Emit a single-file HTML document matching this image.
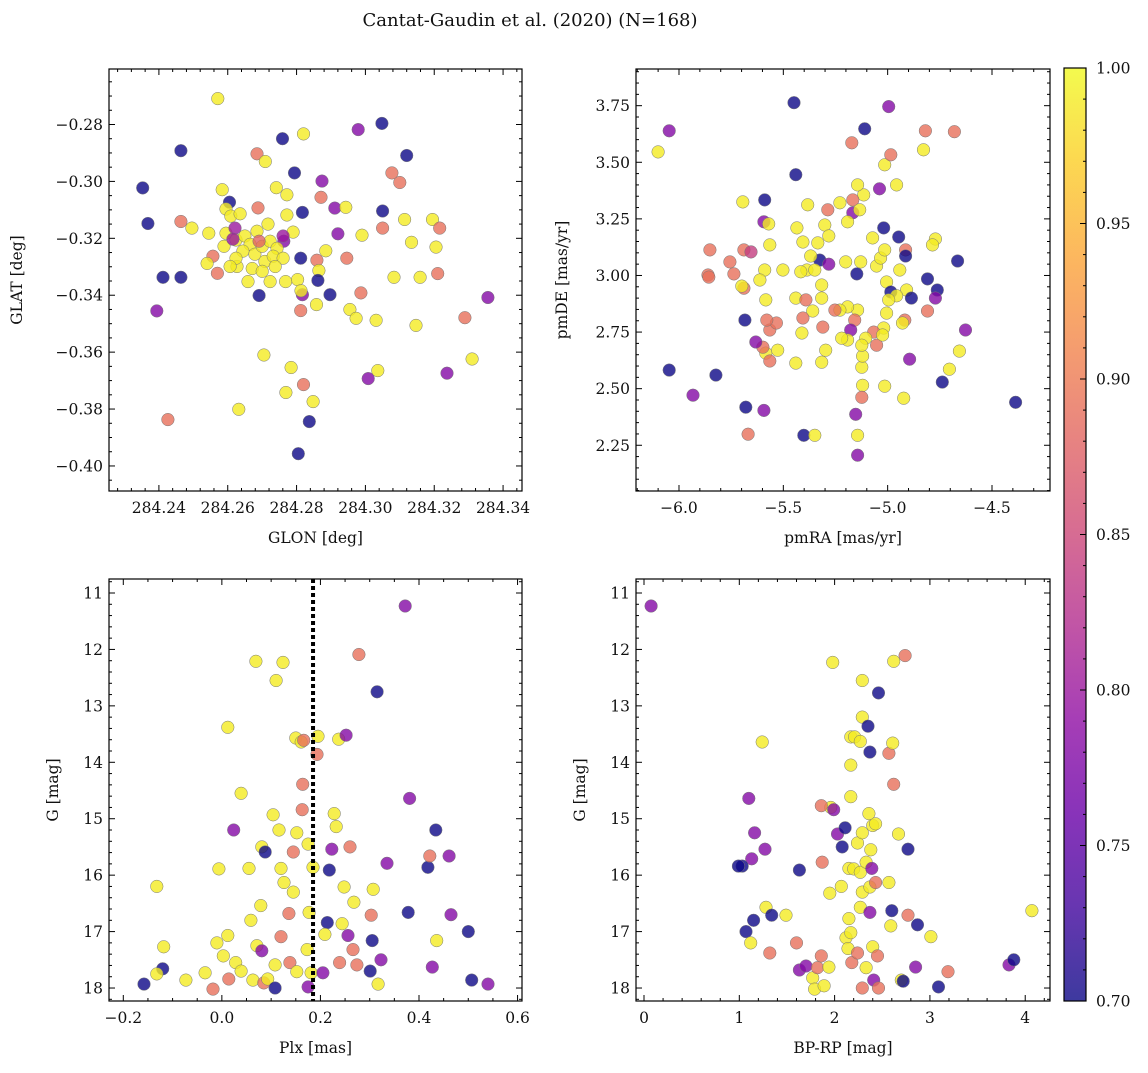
<!DOCTYPE html>
<html><head><meta charset="utf-8"><style>
body{margin:0;background:#fff;}
svg text{font-family:"DejaVu Serif","Liberation Serif",serif;fill:#111;}
</style></head><body>
<svg id="fig" width="1148" height="1068" viewBox="0 0 1148 1068" xmlns="http://www.w3.org/2000/svg">
<defs>
<linearGradient id="cbg" x1="0" y1="1" x2="0" y2="0">
<stop offset="0" stop-color="#0d0887"/><stop offset="0.1" stop-color="#41049d"/><stop offset="0.2" stop-color="#6a00a8"/><stop offset="0.3" stop-color="#8f0da4"/><stop offset="0.4" stop-color="#b12a90"/><stop offset="0.5" stop-color="#cc4778"/><stop offset="0.6" stop-color="#e16462"/><stop offset="0.7" stop-color="#f2844b"/><stop offset="0.8" stop-color="#fca636"/><stop offset="0.9" stop-color="#fcce25"/><stop offset="1" stop-color="#f0f921"/>
</linearGradient>
</defs>
<text x="530" y="26" text-anchor="middle" font-size="18">Cantat-Gaudin et al. (2020) (N=168)</text>
</svg>
<script>
// ---- data ----
const tlLon=[.2571,.2353,.2368,.2464,.2412,.2464,.2394,.2464,.2426,.2759,.282,.2794,.2817,.2685,.2874,.2979,.3048,.312,.3077,.31,.2911,.2943,.2871,.305,.305,.299,.292,.3114,.3134,.3195,.3216,.3205,.3083,.3159,.321,.2946,.2987,.2955,.2973,.3031,.3147,.3036,.3008,.3289,.331,.3237,.3356,.2885,.2859,.2865,.2862,.2897,.2817,.2812,.2858,.2812,.2803,.2768,.2813,.2705,.2784,.2769,.282,.2848,.2837,.2805,.2632,.2691,.2584,.2605,.2741,.2772,.2709,.2772,.279,.2763,.2496,.2545,.2557,.257,.254,.2627,.2595,.2609,.2636,.2595,.2624,.265,.2665,.2644,.2679,.27,.2723,.2743,.2708,.2732,.2761,.2671,.27,.2659,.2723,.2738,.2624,.2607,.2589,.2685,.2717,.2688,.2621,.2615,.2691,.2761];
const tlLat=[-.2709,-.3023,-.3148,-.2892,-.3337,-.3337,-.3455,-.3141,-.3837,-.285,-.2833,-.297,-.3109,-.2903,-.2999,-.2818,-.2796,-.2909,-.297,-.3004,-.3094,-.3091,-.3056,-.3104,-.3164,-.3189,-.3184,-.3134,-.3214,-.3134,-.3164,-.3231,-.3337,-.3337,-.3324,-.327,-.3392,-.345,-.3481,-.3488,-.3506,-.3665,-.3693,-.3479,-.3624,-.3674,-.3408,-.3244,-.3277,-.3313,-.3348,-.3398,-.3398,-.3454,-.3433,-.327,-.3345,-.3352,-.3384,-.361,-.3654,-.3742,-.3714,-.3774,-.3844,-.3957,-.3801,-.3401,-.3029,-.3073,-.3022,-.3047,-.293,-.3118,-.3178,-.321,-.3164,-.3182,-.3263,-.3323,-.3288,-.3299,-.3097,-.3122,-.3114,-.3182,-.3206,-.3192,-.3221,-.3245,-.3256,-.3228,-.321,-.3235,-.3281,-.3263,-.327,-.3306,-.3316,-.3352,-.3352,-.3299,-.327,-.3299,-.3228,-.3175,-.315,-.3093,-.3164,-.3203,-.321,-.3192];
const tlProb=[.99,.7,.7,.7,.7,.7,.78,.89,.89,.7,.99,.7,.7,.89,.78,.78,.7,.7,.89,.89,.78,.99,.89,.7,.89,.99,.78,.99,.99,.99,.89,.99,.99,.99,.89,.89,.89,.99,.99,.99,.99,.99,.78,.89,.99,.78,.78,.99,.89,.99,.7,.7,.78,.89,.99,.7,.99,.99,.99,.99,.99,.99,.89,.99,.7,.7,.99,.7,.99,.7,.99,.99,.99,.99,.99,.78,.99,.99,.89,.89,.99,.99,.99,.99,.99,.99,.99,.99,.99,.99,.99,.99,.99,.99,.99,.99,.99,.99,.99,.99,.99,.99,.99,.99,.99,.99,.99,.89,.8,.8,.88,.8];

const trRA=[-6.047,-6.100,-5.449,-5.110,-4.995,-4.819,-4.680,-5.172,-5.014,-4.985,-4.828,-5.440,-5.694,-5.589,-5.593,-5.383,-5.287,-5.229,-5.115,-5.144,-5.039,-4.957,-5.167,-5.167,-5.134,-5.192,-5.301,-5.435,-5.406,-5.335,-5.282,-5.570,-5.565,-5.689,-5.655,-5.852,-5.861,-5.857,-5.756,-5.737,-5.589,-5.502,-5.387,-5.325,-5.282,-5.201,-5.129,-5.148,-5.053,-5.034,-5.014,-5.072,-5.019,-4.947,-4.914,-4.942,-4.914,-5.005,-4.985,-4.909,-4.886,-4.957,-4.995,-4.809,-4.771,-4.785,-4.665,-4.762,-4.771,-4.809,-4.918,-5.005,-4.929,-5.019,-5.067,-5.053,-5.024,-5.105,-4.895,-4.627,-4.656,-4.704,-4.738,-4.387,-4.923,-5.014,-5.124,-5.120,-5.124,-5.120,-5.124,-5.153,-5.144,-5.144,-5.144,-5.158,-5.177,-5.192,-5.220,-5.192,-5.229,-5.253,-5.311,-5.297,-5.316,-5.359,-5.440,-5.406,-5.411,-5.440,-5.565,-5.533,-5.579,-5.584,-5.565,-5.527,-5.598,-5.632,-5.684,-5.689,-5.612,-5.584,-5.699,-5.369,-5.316,-5.316,-5.392,-5.416,-5.349,-5.593,-5.680,-6.047,-5.823,-5.933,-5.669,-5.402,-5.349];
const trDE=[3.639,3.546,3.763,3.648,3.746,3.639,3.635,3.586,3.489,3.533,3.555,3.445,3.325,3.334,3.237,3.312,3.29,3.321,3.356,3.4,3.383,3.4,3.334,3.277,3.29,3.237,3.223,3.21,3.148,3.144,3.175,3.228,3.135,3.113,3.104,3.113,3.002,2.993,3.06,3.007,3.024,3.024,3.024,3.068,3.05,3.06,3.06,3.007,3.042,3.077,3.113,3.166,3.21,3.17,3.113,3.024,3.086,2.971,2.927,2.936,2.9,2.91,2.892,2.985,3.161,3.135,3.064,2.936,2.9,2.843,2.803,2.834,2.79,2.768,2.75,2.692,2.737,2.723,2.63,2.759,2.666,2.586,2.529,2.44,2.458,2.511,2.595,2.644,2.692,2.515,2.462,2.387,2.294,2.206,2.847,2.803,2.759,2.715,2.723,2.861,2.847,2.847,2.772,2.67,2.617,2.843,2.9,2.812,2.746,2.613,2.759,2.79,2.803,2.657,2.622,2.67,2.683,2.706,2.803,2.944,2.98,2.892,2.953,3.086,2.958,2.9,2.892,3.016,3.024,2.404,2.418,2.582,2.56,2.471,2.299,2.294,2.294];
const trProb=[.78,.99,.7,.7,.78,.89,.89,.89,.99,.89,.99,.7,.99,.7,.78,.99,.89,.99,.99,.99,.78,.99,.89,.78,.99,.99,.99,.99,.99,.99,.99,.99,.99,.89,.84,.89,.89,.89,.89,.89,.99,.99,.99,.7,.78,.99,.99,.7,.99,.99,.99,.99,.7,.7,.89,.99,.7,.99,.7,.99,.7,.99,.99,.7,.99,.99,.7,.7,.78,.89,.89,.99,.99,.99,.89,.89,.99,.99,.78,.78,.99,.99,.7,.7,.99,.99,.99,.99,.99,.99,.89,.78,.99,.78,.99,.89,.78,.99,.99,.99,.99,.89,.89,.99,.99,.99,.99,.89,.99,.99,.89,.89,.89,.99,.89,.99,.89,.78,.7,.89,.99,.99,.99,.99,.99,.99,.89,.99,.99,.78,.7,.7,.7,.78,.89,.7,.99];

const blPlx=[-.158,-.12,-.132,-.118,-.132,-.073,-.034,-.01,.003,-.018,.014,-.006,.012,.024,.039,.012,.028,.039,.063,.055,.059,.071,.069,.081,.079,.085,.093,.108,.108,.12,.11,.124,.104,.081,.088,.116,.12,.126,.136,.145,.145,.150,.161,.166,.138,.152,.164,.152,.163,.175,.177,.173,.181,.175,.193,.195,.214,.205,.209,.218,.223,.232,.228,.237,.252,.26,.248,.244,.256,.239,.266,.274,.278,.268,.303,.307,.305,.301,.315,.323,.317,.335,.372,.381,.378,.418,.422,.427,.434,.436,.461,.465,.50,.507,.54,.185];
const blG=[17.93,17.66,16.2,17.27,17.75,17.86,17.73,17.2,17.43,18.02,17.84,15.89,13.38,15.2,14.55,17.07,17.55,17.7,17.86,15.88,16.8,17.25,12.21,17.34,16.54,17.91,17.84,17.59,18.0,17.09,12.55,12.23,14.93,15.5,15.59,15.2,15.88,16.13,16.68,16.3,15.59,13.57,13.64,13.61,17.55,17.71,14.39,15.25,14.84,15.45,16.66,17.32,17.73,17.98,13.86,13.54,16.84,17.73,17.05,15.91,15.54,15.14,14.91,13.59,13.52,15.5,16.21,16.86,17.07,17.55,17.32,17.59,12.09,16.48,16.71,16.25,17.16,17.7,12.75,17.5,17.93,15.79,11.23,14.64,16.66,15.86,15.66,17.63,15.2,17.16,15.66,16.7,17.0,17.86,17.93,15.86];
const blProb=[.7,.7,.99,.99,.99,.99,.99,.99,.99,.89,.89,.99,.99,.78,.99,.99,.99,.99,.99,.99,.99,.99,.99,.78,.99,.89,.99,.99,.7,.89,.99,.99,.99,.99,.7,.99,.99,.99,.89,.99,.89,.99,.99,.89,.89,.99,.89,.99,.89,.99,.99,.99,.99,.78,.89,.99,.7,.78,.99,.7,.78,.99,.99,.99,.78,.89,.99,.99,.78,.89,.89,.89,.89,.99,.89,.99,.7,.7,.7,.78,.99,.78,.78,.78,.7,.7,.89,.78,.7,.99,.78,.78,.7,.7,.78,.99];
const blCut=[0.185];

const brCol=[.074,1.1,1.13,1.03,.99,1.16,1.07,1.15,1.12,1.27,1.24,1.28,1.34,1.32,1.49,1.63,1.6,1.63,1.7,1.77,1.79,1.82,1.86,1.89,1.94,1.95,1.96,1.86,1.87,1.98,1.99,2.03,2.07,2.08,2.11,2.12,2.14,2.17,2.21,2.17,2.17,2.15,2.2,2.15,2.17,2.18,2.24,2.24,2.29,2.29,2.27,2.29,2.27,2.33,2.29,2.27,2.29,2.33,2.35,2.37,2.36,2.4,2.38,2.39,2.37,2.37,2.4,2.45,2.41,2.46,2.43,2.46,2.43,2.57,2.62,2.57,2.59,2.6,2.62,2.61,2.67,2.74,2.77,2.77,2.7,2.72,2.85,2.87,3.01,3.09,3.19,3.83,3.88,4.07];
const brG=[11.23,14.64,15.71,15.84,15.84,15.25,17.0,16.8,17.2,15.54,13.64,16.57,16.71,17.38,16.71,15.91,17.2,17.68,17.61,17.82,18.02,17.64,17.43,17.96,17.63,16.32,14.8,14.77,15.77,12.23,14.84,15.27,16.2,15.5,15.16,17.11,17.3,13.55,13.55,14.05,14.61,15.88,15.89,16.77,17.02,17.55,17.38,15.43,12.55,13.2,13.63,15.25,15.95,15.77,16.3,16.57,18.0,17.64,13.36,13.82,14.91,15.12,15.55,15.88,16.21,16.66,17.27,17.43,17.86,18.0,16.13,12.77,15.09,13.84,14.39,16.13,16.9,16.63,12.21,13.66,15.27,12.11,15.54,16.71,17.86,17.88,17.63,16.88,17.09,17.98,17.71,17.59,17.5,16.63];
const brProb=[.78,.78,.78,.7,.7,.78,.7,.7,.99,.78,.99,.99,.7,.89,.99,.7,.89,.78,.78,.99,.99,.89,.89,.99,.99,.99,.99,.89,.89,.99,.78,.78,.99,.7,.7,.99,.99,.99,.99,.99,.99,.99,.99,.99,.99,.89,.89,.99,.99,.99,.99,.99,.99,.99,.99,.99,.89,.99,.7,.7,.99,.99,.99,.78,.99,.78,.99,.89,.78,.89,.89,.7,.99,.89,.89,.99,.99,.7,.99,.99,.99,.89,.7,.89,.99,.7,.78,.7,.99,.7,.89,.78,.7,.99];

const cbTicks=[0.70,0.75,0.80,0.85,0.90,0.95,1.00];

// ---- drawing ----
const NS='http://www.w3.org/2000/svg';
const svg=document.getElementById('fig');
function mk(tag,attrs,parent){const e=document.createElementNS(NS,tag);for(const k in attrs)e.setAttribute(k,attrs[k]);(parent||svg).appendChild(e);return e;}
const stops=[[13,8,135],[65,4,157],[106,0,168],[143,13,164],[177,42,144],[204,71,120],[225,100,98],[242,132,75],[252,166,54],[252,206,37],[240,249,33]];
function plasma(p){let t=(p-0.7)/0.3;t=Math.max(0,Math.min(1,t))*10;const i=Math.min(9,Math.floor(t)),f=t-i;const a=stops[i],b=stops[i+1];return 'rgb('+a.map((v,k)=>Math.round(v+(b[k]-v)*f)).join(',')+')';}
function fmt(v,d){const s=Math.abs(v).toFixed(d);return (v<-1e-9&&parseFloat(s)!==0?'\u2212':'')+s;}

function panel(cfg){
  const {x0,x1,y0,y1,xd,yd}=cfg;
  const g=mk('g',{});
  
  
  const sx=v=>x0+(v-xd[0])/(xd[1]-xd[0])*(x1-x0);
  const sy=v=>y1-(v-yd[0])/(yd[1]-yd[0])*(y1-y0);
  const clip='c'+cfg.name;
  const cp=mk('clipPath',{id:clip},g);mk('rect',{x:x0,y:y0,width:x1-x0,height:y1-y0},cp);
  const pts=mk('g',{'clip-path':'url(#'+clip+')'},g);
  for(let i=0;i<cfg.xs.length;i++){
    const c=mk('circle',{cx:sx(cfg.xs[i]).toFixed(1),cy:sy(cfg.ys[i]).toFixed(1),r:6.3,fill:plasma(cfg.ps[i]),'fill-opacity':0.8,stroke:'#777','stroke-width':0.5},pts);
    
    
  }
  if(cfg.vline){for(const v of cfg.vline){const l=mk('line',{x1:sx(v),x2:sx(v),y1:y0,y2:y1,stroke:'#000','stroke-width':4,'stroke-dasharray':'4,3'},pts);
    
    }}
  const fr=mk('rect',{x:x0,y:y0,width:x1-x0,height:y1-y0,fill:'none',stroke:'#000','stroke-width':1.2},g);
  
  
  const ax=cfg.xt;
  for(let k=0;;k++){
    const v=ax.start+k*ax.minor; if(v>xd[1]+1e-9)break;
    if(v<xd[0]-1e-9)continue;
    const maj=k%ax.per===0;const L=maj?6:3;const X=sx(v);
    mk('line',{x1:X,x2:X,y1:y1,y2:y1-L,stroke:'#000','stroke-width':1},g);
    mk('line',{x1:X,x2:X,y1:y0,y2:y0+L,stroke:'#000','stroke-width':1},g);
    if(maj){const t=mk('text',{x:X,y:y1+22,'text-anchor':'middle','font-size':15.5},g);t.textContent=fmt(v,ax.d);
      
      }
  }
  const ay=cfg.yt;
  for(let k=0;;k++){
    const v=ay.start+k*ay.minor; if(v>yd[1]+1e-9)break;
    if(v<yd[0]-1e-9)continue;
    const maj=k%ay.per===0;const L=maj?6:3;const Y=sy(v);
    mk('line',{x1:x0,x2:x0+L,y1:Y,y2:Y,stroke:'#000','stroke-width':1},g);
    mk('line',{x1:x1,x2:x1-L,y1:Y,y2:Y,stroke:'#000','stroke-width':1},g);
    if(maj){const t=mk('text',{x:x0-6,y:Y+5.5,'text-anchor':'end','font-size':15.5},g);t.textContent=cfg.yneg?fmt(-v,ay.d):fmt(v,ay.d);
      
      }
  }
  const xl=mk('text',{x:(x0+x1)/2,y:y1+52,'text-anchor':'middle','font-size':15.5},g);xl.textContent=cfg.xlabel;
  
  
  const yl=mk('text',{x:cfg.ylx,y:(y0+y1)/2,'text-anchor':'middle','font-size':15.5,transform:'rotate(-90 '+cfg.ylx+' '+(y0+y1)/2+')'},g);yl.textContent=cfg.ylabel;
  
  
}

panel({name:'glon-glat-panel',x0:109,x1:522,y0:69,y1:491,xd:[284.2255,284.3455],yd:[-.4088,-.2605],xs:tlLon.map(v=>284+v),ys:tlLat,ps:tlProb,
  xt:{start:284.22,minor:0.004,per:5,d:2},yt:{start:-0.42,minor:0.005,per:4,d:2},xlabel:'GLON [deg]',ylabel:'GLAT [deg]',ylx:22});
panel({name:'proper-motion-panel',x0:636,x1:1050,y0:69,y1:491,xd:[-6.206,-4.222],yd:[2.048,3.912],xs:trRA,ys:trDE,ps:trProb,
  xt:{start:-6.5,minor:0.1,per:5,d:1},yt:{start:2.0,minor:0.05,per:5,d:2},xlabel:'pmRA [mas/yr]',ylabel:'pmDE [mas/yr]',ylx:567});
panel({name:'parallax-magnitude-panel',x0:109,x1:522,y0:579,y1:1001,xd:[-0.229,0.609],yd:[-18.23,-10.752],xs:blPlx,ys:blG.map(v=>-v),ps:blProb,vline:blCut,yneg:true,
  xt:{start:-0.4,minor:0.05,per:4,d:1},yt:{start:-19,minor:0.2,per:5,d:0},xlabel:'Plx [mas]',ylabel:'G [mag]',ylx:58});
panel({name:'color-magnitude-panel',x0:636,x1:1050,y0:579,y1:1001,xd:[-0.084,4.26],yd:[-18.23,-10.752],xs:brCol,ys:brG.map(v=>-v),ps:brProb,yneg:true,
  xt:{start:-1,minor:0.2,per:5,d:0},yt:{start:-19,minor:0.2,per:5,d:0},xlabel:'BP-RP [mag]',ylabel:'G [mag]',ylx:585});

// colorbar
const cb=mk('g',{});


const cx0=1064,cx1=1086,cy0=68,cy1=1001;
mk('rect',{x:cx0,y:cy0,width:cx1-cx0,height:cy1-cy0,fill:'url(#cbg)','fill-opacity':0.8},cb);
mk('rect',{x:cx0,y:cy0,width:cx1-cx0,height:cy1-cy0,fill:'none',stroke:'#000','stroke-width':1.2},cb);
const cby=v=>cy1-(v-0.7)/0.3*(cy1-cy0);
for(let k=0;k<=30;k++){const v=0.7+k*0.01;const Y=cby(v);const maj=k%5===0;
  mk('line',{x1:cx1,x2:cx1-(maj?6:3),y1:Y,y2:Y,stroke:'#000','stroke-width':1},cb);}
cbTicks.forEach(v=>{const t=mk('text',{x:cx1+10,y:cby(v)+5.5,'font-size':15.5},cb);t.textContent=v.toFixed(2);
  
  });
</script>
</body></html>
